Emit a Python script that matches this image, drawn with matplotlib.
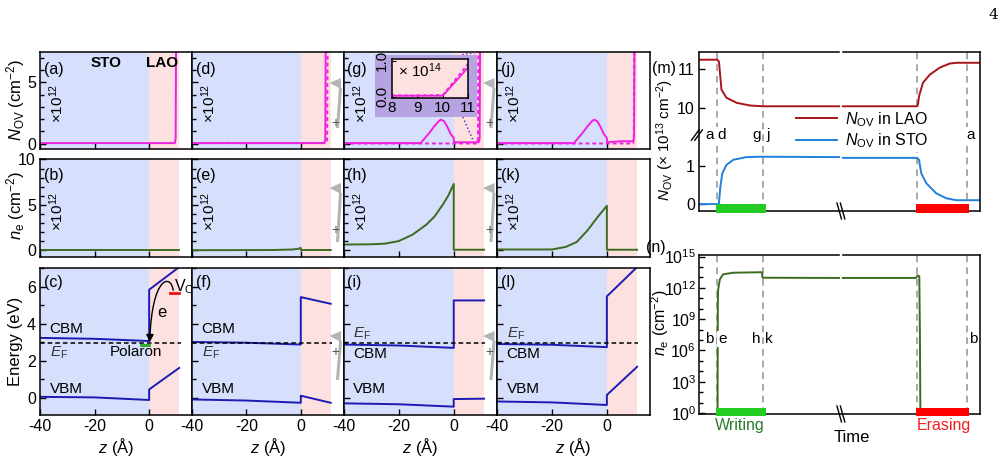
import numpy as np
import matplotlib
matplotlib.use('Agg')
import matplotlib.pyplot as plt
from matplotlib.patches import Rectangle, Polygon, FancyArrowPatch
from matplotlib.path import Path
from matplotlib.ticker import MultipleLocator, FixedLocator, NullFormatter

plt.rcParams['font.family'] = ['Liberation Sans', 'DejaVu Sans']
plt.rcParams['mathtext.fontset'] = 'custom'
plt.rcParams['mathtext.rm'] = 'Liberation Sans'
plt.rcParams['mathtext.it'] = 'Liberation Sans:italic'
plt.rcParams['mathtext.bf'] = 'Liberation Sans:bold'
plt.rcParams['axes.unicode_minus'] = False
plt.rcParams['axes.linewidth'] = 1.1

# ---------------- data: N_OV profiles (x10^12 cm^-2) ----------------
z_a = [-40, 9.4, 9.7, 9.9, 11]
nov_a = [0.05, 0.05, 0.4, 10, 80]
z_d = [-40, 8.7, 9.0, 9.2, 11]
nov_d = [0.05, 0.05, 0.4, 10, 80]
z_g = [-40, -12, -8.9, -7.1, -5.3, -4.6, -3.5, -2.3, -1.1, -0.2, 0, 0.1, 9.1, 9.4, 9.6, 11]
nov_g = [0.05, 0.05, 0.87, 1.41, 1.87, 1.96, 1.83, 1.36, 0.79, 0.52, 0.45, 0.12, 0.12, 0.4, 10, 80]
z_g_ref = [-40, 8.5, 8.8, 9.0, 11]
nov_g_ref = [0.02, 0.02, 0.4, 10, 80]
z_j = [-40, -12, -8.9, -7.1, -5.3, -4.6, -3.5, -2.3, -1.1, -0.2, 0, 0.1, 5, 9.6, 9.9, 10.1, 11]
nov_j = [0.05, 0.05, 0.87, 1.41, 1.87, 1.96, 1.83, 1.36, 0.79, 0.52, 0.45, 0.12, 0.2, 0.2, 0.5, 10, 80]
z_j_ref = [-40, 9.6, 9.8, 10.0, 11]
nov_j_ref = [0.02, 0.02, 0.4, 10, 80]
# inset of (g), x10^14 cm^-2
z_ins = [8, 9, 10, 11]
nov_ins = [0.03, 0.03, 0.03, 0.82]
nov_ins_ref = [0.04, 0.04, 0.05, 0.92]

# ---------------- data: n_e profiles (x10^12 cm^-2) ----------------
z_b = [-40, 11]
ne_b = [0.02, 0.02]
z_e = [-40, -10, -3, -1, 0, 0.01, 11]
ne_e = [0.0, 0.02, 0.08, 0.15, 0.25, 0.02, 0.02]
z_h = [-40, -30, -25, -20, -15, -10, -7, -4, -2, 0, 0, 11]
ne_h = [0.62, 0.65, 0.72, 1.0, 1.7, 2.8, 3.7, 5.0, 6.0, 7.3, 0.05, 0.05]
z_k = [-40, -20, -15, -11, -7, -3.5, 0, 0, 11]
ne_k = [0.08, 0.08, 0.36, 0.9, 2.2, 3.6, 4.9, 0.05, 0.05]

# ---------------- data: band edges (eV) ----------------
z_band = [-40, -20, 0, 0, 11]
cbm_c = [3.23, 3.18, 3.06, 5.83, 7.05]
vbm_c = [0.05, 0.02, -0.12, 0.45, 1.61]
cbm_f = [3.01, 2.97, 2.87, 5.43, 5.07]
vbm_f = [-0.09, -0.15, -0.27, 0.11, -0.27]
cbm_i = [2.87, 2.82, 2.69, 5.25, 5.25]
vbm_i = [-0.30, -0.35, -0.48, -0.07, -0.05]
cbm_l = [2.90, 2.86, 2.73, 5.47, 7.05]
vbm_l = [-0.20, -0.25, -0.39, 0.15, 1.67]
E_F = 2.95

# ---------------- data: time evolution ----------------
t_lao_1 = [0, 6.5, 7.1, 8.0, 9.8, 13.4, 18.2, 22.7, 49.8]
nov_lao_1 = [11.25, 11.25, 11.2, 10.47, 10.26, 10.13, 10.06, 10.04, 10.04]
t_lao_2 = [51.2, 77.6, 77.9, 78.3, 79.7, 82.1, 85.6, 89.2, 91.6, 100]
nov_lao_2 = [10.04, 10.04, 10.08, 10.3, 10.65, 10.86, 11.04, 11.15, 11.17, 11.17]
t_sto_1 = [0, 6.6, 7.1, 7.6, 8.3, 9.8, 12.2, 16.9, 21.7, 49.8]
nov_sto_1 = [0.0, 0.0, 0.02, 0.45, 0.8, 1.02, 1.15, 1.22, 1.23, 1.22]
t_sto_2 = [51.2, 77.6, 78.3, 79.1, 80.9, 84.4, 88.0, 91.6, 100]
nov_sto_2 = [1.2, 1.2, 1.15, 0.8, 0.54, 0.28, 0.15, 0.1, 0.1]
t_ne_1 = [6.6, 6.7, 6.8, 7.4, 8.6, 12.2, 22.4, 22.6, 49.8]
log_ne_1 = [-1, 10.5, 11.8, 12.8, 13.3, 13.45, 13.5, 12.97, 12.95]
t_ne_2 = [51.2, 77.2, 77.8, 78.4, 78.6, 78.8]
log_ne_2 = [12.95, 12.95, 13.2, 13.1, 8, -1]
t_marks = [6.5, 22.6, 77.6, 95.4]
write_span = [6.1, 23.8]
erase_span = [77.2, 96.0]
labels_m = [('a', 3.8), ('d', 8.0), ('g', 20.4), ('j', 24.6), ('a', 96.7)]
labels_n = [('b', 3.5), ('e', 8.3), ('h', 20.2), ('k', 24.8), ('b', 97.5)]

BLUE_BG = '#d6dffb'
PINK_BG = '#fde0e0'
MAG = '#f020e0'
OLIVE = '#3d6b1f'
BAND = '#1c1cb4'
W, H = 1006, 457


def px_rect(x0, y0, x1, y1):
    return [x0 / W, 1 - y1 / H, (x1 - x0) / W, (y1 - y0) / H]


def fpx(x, y):
    return (x / W, 1 - y / H)


fig = plt.figure(figsize=(W / 100, H / 100), dpi=100)

col_x = [40, 192, 343.5, 497, 650]
row_y = [(52, 149), (159, 257), (268, 415)]
axes = [[fig.add_axes(px_rect(col_x[c], row_y[r][0], col_x[c + 1], row_y[r][1]))
         for c in range(4)] for r in range(3)]

letters = [['(a)', '(d)', '(g)', '(j)'], ['(b)', '(e)', '(h)', '(k)'], ['(c)', '(f)', '(i)', '(l)']]
label_y = [0.82, 0.83, 0.90]
for r in range(3):
    for c in range(4):
        ax = axes[r][c]
        ax.set_xlim(-40, 15.7)
        ax.axvspan(-40, 0, color=BLUE_BG, lw=0, zorder=0)
        ax.axvspan(0, 11, color=PINK_BG, lw=0, zorder=0)
        ax.set_xticks([-40, -20, 0])
        ax.tick_params(direction='in', which='both', labelsize=11.5, width=1,
                       top=False, right=False, pad=3)
        ax.tick_params(which='major', length=4)
        ax.tick_params(which='minor', length=3)
        ax.text(0.025, label_y[r], letters[r][c], transform=ax.transAxes,
                fontsize=11.5, va='center', ha='left')
        if r < 2:
            ax.set_xticklabels([])
            ax.text(0.11, 0.47, r'×10$^{12}$', transform=ax.transAxes, rotation=90,
                    fontsize=11, ha='center', va='center')
        else:
            ax.set_xlabel(r'$z$ (Å)', fontsize=12, labelpad=1)
        if c > 0:
            ax.set_yticklabels([])

# row 1: N_OV
for ax in axes[0]:
    ax.set_ylim(-0.43, 7.47)
    ax.yaxis.set_major_locator(FixedLocator([0, 5]))
    ax.yaxis.set_minor_locator(MultipleLocator(1))
axes[0][0].plot(z_a, nov_a, color=MAG, lw=1.4)
axes[0][1].plot(z_a, nov_a, color=MAG, lw=1.4, ls=(0, (2, 1.5)))
axes[0][1].plot(z_d, nov_d, color=MAG, lw=1.4)
axes[0][2].plot(z_g_ref, nov_g_ref, color=MAG, lw=1.4, ls=(0, (2, 1.5)))
axes[0][2].plot(z_g, nov_g, color=MAG, lw=1.4)
axes[0][3].plot(z_j_ref, nov_j_ref, color=MAG, lw=1.4, ls=(0, (2, 1.5)))
axes[0][3].plot(z_j, nov_j, color=MAG, lw=1.4)
axes[0][0].text(-15.8, 6.55, 'STO', fontsize=11, fontweight='bold', ha='center', va='center')
axes[0][0].text(4.8, 6.55, 'LAO', fontsize=11, fontweight='bold', ha='center', va='center')

# row 2: n_e
for ax in axes[1]:
    ax.set_ylim(-0.75, 10.05)
    ax.yaxis.set_major_locator(FixedLocator([0, 5, 10]))
    ax.yaxis.set_minor_locator(MultipleLocator(1))
for ax, zz, nn in zip(axes[1], [z_b, z_e, z_h, z_k], [ne_b, ne_e, ne_h, ne_k]):
    ax.plot(zz, nn, color=OLIVE, lw=1.4)

# row 3: bands
band_sets = [(cbm_c, vbm_c), (cbm_f, vbm_f), (cbm_i, vbm_i), (cbm_l, vbm_l)]
for ax, (cb, vb) in zip(axes[2], band_sets):
    ax.set_ylim(-0.93, 7.0)
    ax.yaxis.set_major_locator(FixedLocator([0, 2, 4, 6]))
    ax.yaxis.set_minor_locator(MultipleLocator(1))
    ax.plot(z_band, cb, color=BAND, lw=1.4)
    ax.plot(z_band, vb, color=BAND, lw=1.4)
    ax.plot([-40, 11.5], [E_F, E_F], color='k', lw=1.1, ls=(0, (3, 2)))
    ax.text(-36.5, 0.45, 'VBM', fontsize=11, ha='left', va='center')

for ax in axes[2][:2]:
    ax.text(-36.5, 3.72, 'CBM', fontsize=11, ha='left', va='center')
    ax.text(-36.5, 2.42, r'$E_{\mathrm{F}}$', fontsize=11, ha='left', va='center', color='#333333')
for ax in axes[2][2:]:
    ax.text(-36.5, 3.45, r'$E_{\mathrm{F}}$', fontsize=11, ha='left', va='center', color='#333333')
    ax.text(-36.5, 2.38, 'CBM', fontsize=11, ha='left', va='center')

axc = axes[2][0]
axc.plot([-3.0, -0.2], [2.87, 2.87], color='#22aa22', lw=2)
axc.plot([7.6, 11], [5.67, 5.67], color='#ee1111', lw=2)
axc.text(-5, 2.45, 'Polaron', fontsize=11, ha='center', va='center')
axc.text(4.7, 4.6, 'e', fontsize=12, ha='center', va='center')
axc.text(9.2, 6.0, r'V$_{\mathrm{O}}$', fontsize=11.5, ha='left', va='center', clip_on=False)
arc = Path([(8.8, 5.8), (8.0, 6.7), (1.0, 6.6), (0.2, 3.0)],
           [Path.MOVETO, Path.CURVE4, Path.CURVE4, Path.CURVE4])
axc.add_patch(FancyArrowPatch(path=arc, arrowstyle='-|>', mutation_scale=11,
                              color='k', lw=1.0, zorder=5))

# y labels of left block
fig.text(16 / W, 1 - 100 / H, r'$N_{\mathrm{OV}}$ (cm$^{-2}$)', rotation=90,
         fontsize=12, ha='center', va='center')
fig.text(16 / W, 1 - 206 / H, r'$n_{\mathrm{e}}$ (cm$^{-2}$)', rotation=90,
         fontsize=12, ha='center', va='center')
fig.text(16 / W, 1 - 341 / H, 'Energy (eV)', rotation=90,
         fontsize=12, ha='center', va='center')

# inset in (g)
fig.patches.append(Rectangle(fpx(375, 116.7), 101.7 / W, 61.7 / H, transform=fig.transFigure,
                             facecolor='#b6a3e2', edgecolor='none', zorder=2, figure=fig))
axg = axes[0][2]
axg.plot([3.1, 8.4], [7.25, 7.44], color='#5a3fd0', lw=1.1, ls=(0, (1, 1.5)), clip_on=False, zorder=4)
axg.plot([3.3, 7.2], [2.18, 0.19], color='#5a3fd0', lw=1.1, ls=(0, (1, 1.5)), zorder=4)
axi = fig.add_axes(px_rect(391.7, 59.3, 468.3, 98.3), zorder=5)
axi.set_facecolor(PINK_BG)
axi.plot(z_ins, nov_ins_ref, color=MAG, lw=1.3, ls=(0, (2, 1.5)))
axi.plot(z_ins, nov_ins, color=MAG, lw=1.3)
axi.set_xlim(8, 11)
axi.set_ylim(-0.04, 1.04)
axi.set_xticks([8, 9, 10, 11])
axi.set_yticks([0, 1])
axi.set_yticklabels(['0.0', '1.0'], rotation=90, va='center')
axi.tick_params(direction='in', labelsize=11, length=3, pad=2)
axi.text(0.08, 0.7, r'× 10$^{14}$', transform=axi.transAxes, fontsize=11, va='center')

# AFM tip icons
icon_rows = [(78, 128, 123), (183, 242, 230), (331, 380, 352)]
for xr in (col_x[2], col_x[3]):
    for tri_top, bar_bot, plus_y in icon_rows:
        tri = [fpx(xr - 14, tri_top + 5), fpx(xr - 2.5, tri_top), fpx(xr - 2.5, tri_top + 11)]
        bar = [fpx(xr - 4.5, tri_top + 10), fpx(xr - 1.5, tri_top + 10),
               fpx(xr - 4.5, bar_bot), fpx(xr - 7.5, bar_bot)]
        for pts in (tri, bar):
            fig.patches.append(Polygon(pts, closed=True, transform=fig.transFigure,
                                       facecolor='#b4b4b4', edgecolor='none', zorder=3, figure=fig))
        fig.text((xr - 8) / W, 1 - plus_y / H, '+', fontsize=10, color='#555555',
                 ha='center', va='center', zorder=4)

# ---------------- (m) ----------------
LAO_SHIFT = 7.5
BREAK = 50.5
axm = fig.add_axes(px_rect(699, 52, 980, 211))
axm.set_xlim(0, 100)
axm.set_ylim(-0.18, 3.95)
for t in t_marks:
    axm.axvline(t, color='#999999', lw=1.2, ls=(0, (4, 3)), zorder=1)
axm.plot(t_lao_1, np.array(nov_lao_1) - LAO_SHIFT, color='#a8141c', lw=1.4,
         label=r'$N_{\mathrm{OV}}$ in LAO')
axm.plot(t_lao_2, np.array(nov_lao_2) - LAO_SHIFT, color='#a8141c', lw=1.4)
axm.plot(t_sto_1, nov_sto_1, color='#2080dc', lw=1.4, label=r'$N_{\mathrm{OV}}$ in STO')
axm.plot(t_sto_2, nov_sto_2, color='#2080dc', lw=1.4)
axm.set_yticks([0, 1, 10 - LAO_SHIFT, 11 - LAO_SHIFT])
axm.set_yticklabels(['0', '1', '10', '11'])
axm.set_xticks([])
axm.tick_params(direction='in', labelsize=11.5, length=4, width=1, pad=3)
for lab, t in labels_m:
    axm.text(t, 1.8, lab, fontsize=11, ha='center', va='center',
             bbox=dict(facecolor='white', edgecolor='none', pad=0.5), zorder=3)
leg = axm.legend(loc='center left', bbox_to_anchor=(0.335, 0.51), fontsize=11.5,
                 handlelength=2.6, handletextpad=0.5, labelspacing=0.15, borderpad=0.15,
                 frameon=True, fancybox=False, framealpha=1, edgecolor='none',
                 borderaxespad=0)
fig.text(664 / W, 1 - 68 / H, '(m)', fontsize=11.5, ha='center', va='center')
fig.text(665 / W, 1 - 140 / H, r'$N_{\mathrm{OV}}$ (× 10$^{13}$ cm$^{-2}$)', rotation=90,
         fontsize=11, ha='center', va='center')

# ---------------- (n) ----------------
axn = fig.add_axes(px_rect(699, 255, 980, 414))
axn.set_yscale('log')
axn.set_xlim(0, 100)
axn.set_ylim(10 ** -0.1, 10 ** 15.15)
for t in t_marks:
    axn.axvline(t, color='#999999', lw=1.2, ls=(0, (4, 3)), zorder=1)
axn.plot(t_ne_1, 10.0 ** np.array(log_ne_1), color=OLIVE, lw=1.4)
axn.plot(t_ne_2, 10.0 ** np.array(log_ne_2), color=OLIVE, lw=1.4)
axn.yaxis.set_major_locator(FixedLocator(10.0 ** np.arange(0, 16, 3)))
axn.set_yticklabels([r'$10^{%d}$' % e for e in range(0, 16, 3)])
axn.yaxis.set_minor_locator(FixedLocator(10.0 ** np.arange(0, 16)))
axn.yaxis.set_minor_formatter(NullFormatter())
axn.set_xticks([])
axn.tick_params(direction='in', which='both', labelsize=11.5, width=1, pad=2)
axn.tick_params(which='major', length=4)
axn.tick_params(which='minor', length=3)
for lab, t in labels_n:
    axn.text(t, 10 ** 7.1, lab, fontsize=11, ha='center', va='center',
             bbox=dict(facecolor='white', edgecolor='none', pad=0.5), zorder=3)
fig.text(656 / W, 1 - 247 / H, '(n)', fontsize=11.5, ha='center', va='center')
fig.text(660 / W, 1 - 323 / H, r'$n_{\mathrm{e}}$ (cm$^{-2}$)', rotation=90,
         fontsize=11.5, ha='center', va='center')
axn.text(14.5, -0.075, 'Writing', transform=axn.get_xaxis_transform(), color='#2a7a2a',
         fontsize=11.5, ha='center', va='center')
axn.text(87, -0.075, 'Erasing', transform=axn.get_xaxis_transform(), color='#ee2020',
         fontsize=11.5, ha='center', va='center')
axn.text(54.5, -0.145, 'Time', transform=axn.get_xaxis_transform(),
         fontsize=12, ha='center', va='center')

# bars, broken top spines, break marks
for ax, y0, hgt in ((axm, -0.013, 0.057), (axn, -0.015, 0.053)):
    for span, col in ((write_span, '#22cc22'), (erase_span, '#ff0000')):
        ax.add_patch(Rectangle((span[0], y0), span[1] - span[0], hgt,
                               transform=ax.get_xaxis_transform(), facecolor=col,
                               edgecolor='none', clip_on=False, zorder=6))
    ax.spines['top'].set_visible(False)
    ax.plot([0, 0.497], [1, 1], transform=ax.transAxes, color='k', lw=1.1, clip_on=False)
    ax.plot([0.512, 1], [1, 1], transform=ax.transAxes, color='k', lw=1.1, clip_on=False)
    for s in (-0.006, 0.006):
        ax.plot([BREAK / 100 - 0.008 + s, BREAK / 100 + 0.008 + s], [0.05, -0.05],
                transform=ax.transAxes, color='k', lw=1.0, clip_on=False, zorder=7)

for s in (-0.012, 0.0):
    axm.plot([-0.015 + s, 0.012 + s], [0.445, 0.51], transform=axm.transAxes,
             color='k', lw=1.0, clip_on=False, zorder=7)

# page number
fig.text(993 / W, 1 - 15 / H, '4', fontsize=11, family='DejaVu Serif', ha='center', va='center')

fig.savefig('out.png', dpi=100)
